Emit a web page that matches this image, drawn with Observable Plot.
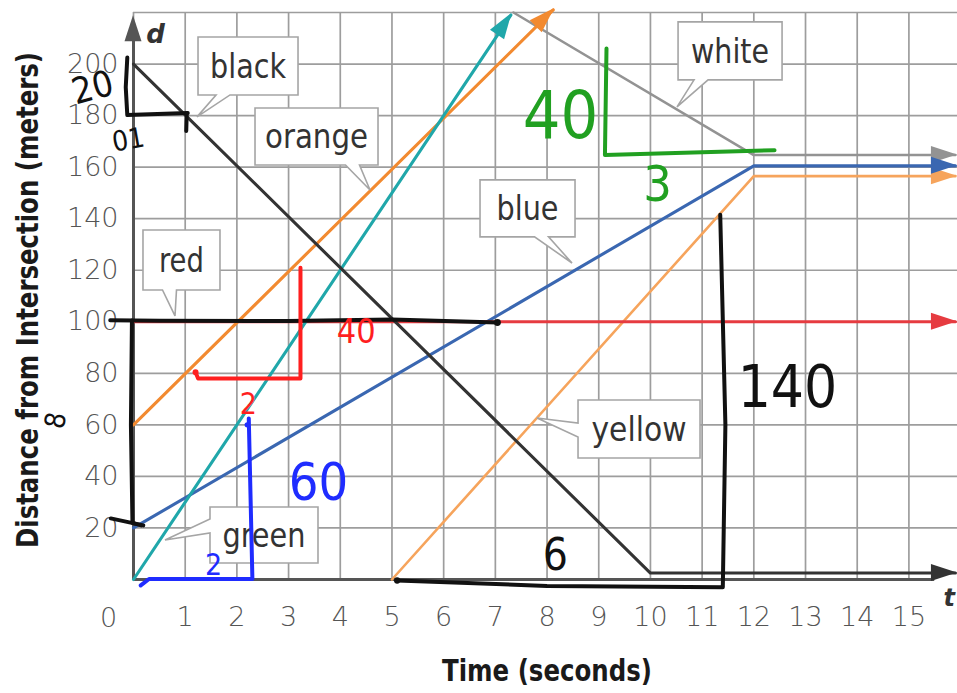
<!DOCTYPE html>
<html><head><meta charset="utf-8">
<script src="https://cdn.jsdelivr.net/npm/d3@7"></script>
<script src="https://cdn.jsdelivr.net/npm/@observablehq/plot@0.6"></script>
<style>
html,body{margin:0;padding:0;background:#fff;overflow:hidden;}
</style></head><body><div id="chart"></div>
<script>
// ---- series data (time t in seconds, distance d in meters) ----
const seriesNames  = ["white", "yellow", "blue", "red", "orange", "green", "black"];
const seriesColors = ["#939393", "#f6a45c", "#3a67b1", "#e63b40", "#f28a30", "#20a7aa", "#333333"];
const whiteT  = [7.35, 12, 15.9];  const whiteD  = [220, 164.7, 164.7];
const yellowT = [5, 12, 15.9];     const yellowD = [0, 156.5, 156.5];
const blueT   = [0, 12, 15.9];     const blueD   = [20, 160.5, 160.5];
const redT    = [0, 15.9];         const redD    = [100, 100];
const orangeT = [0, 8.12];         const orangeD = [60, 221];
const greenT  = [0, 7.3];          const greenD  = [0, 219];
const blackT  = [0, 10, 15.9];     const blackD  = [200, 2.5, 2.5];

// ---- tick labels ----
const xTickLabels = [1,2,3,4,5,6,7,8,9,10,11,12,13,14,15];
const yTickLabels = [20,40,60,80,100,120,140,160,180,200];
const xGrid = [0,1,2,3,4,5,6,7,8,9,10,11,12,13,14,15];
const yGrid = [20,40,60,80,100,120,140,160,180,200,220];

// ---- callout labels (text, point on line, box centre) ----
const calloutLabels = ["black", "orange", "red", "blue", "green", "yellow", "white"];
const calloutTipT   = [1.238, 4.585, 0.8125, 8.493, 0.619, 7.816, 10.524];
const calloutTipD   = [179.3, 150.95, 102.06, 122.6, 15.13, 62.48, 183.2];
const calloutBoxT   = [2.225, 3.55, 0.938, 7.632, 2.534, 9.789, 11.55];
const calloutBoxD   = [199.07, 171.7, 123.8, 143.8, 17.07, 58.2, 204.9];

// ---- handwritten ink annotations ----
const inkStrokes = [
  {ink:"black", t:[-0.12,-0.15,-0.12,1.05], d:[202.5,191,180.2,181]},
  {ink:"black", t:[1.03,1.02], d:[181,174]},
  {ink:"black", t:[-0.45,0.5,3,5,7.04], d:[100.6,100.4,100.3,100.9,99.7]},
  {ink:"black", t:[-0.03,-0.05,-0.02,0.15], d:[100.5,60,22,21]},
  {ink:"black", t:[-0.44,0.19], d:[23.7,21]},
  {ink:"black", t:[5.1,8,11.4,11.45,11.35], d:[-0.4,-2.5,-3,60,141.5]},
  {ink:"red",   t:[1.2,1.25,3.23,3.23], d:[80.4,78,78,121]},
  {ink:"blue",  t:[0.14,0.3,2.3,2.23], d:[-2.3,0.2,0.2,62.5]},
  {ink:"green", t:[9.15,9.12,12.4], d:[206,164.7,166.6]}
];
const inkDots = [
  {ink:"black", t:7.04, d:99.7, r:6},
  {ink:"black", t:5.1, d:-0.4, r:5},
  {ink:"red", t:1.2, d:80.4, r:4.5},
  {ink:"blue", t:2.2, d:60, r:3.5}
];
const inkTexts = [
  {ink:"black", text:"20",  t:-0.79, d:190.7, size:36, rotate:-15},
  {ink:"black", text:"01",  t:-0.1,  d:170.5, size:28, rotate:-10},
  {ink:"red",   text:"40",  t:4.31,  d:95.9,  size:34, rotate:0},
  {ink:"red",   text:"2",   t:2.22,  d:68,    size:30, rotate:0},
  {ink:"blue",  text:"2",   t:1.55,  d:5.4,   size:30, rotate:0},
  {ink:"blue",  text:"60",  t:3.58,  d:37.3,  size:52, rotate:0},
  {ink:"green", text:"40",  t:8.26,  d:179.4, size:66, rotate:0},
  {ink:"green", text:"3",   t:10.14, d:153,   size:50, rotate:0},
  {ink:"black", text:"140", t:12.65, d:74.2,  size:58, rotate:0},
  {ink:"black", text:"6",   t:8.16,  d:9.3,   size:44, rotate:0},
  {ink:"black", text:"8",   t:-1.5,  d:61.7,  size:28, rotate:-80}
];
const inkColors = {black:"#111111", red:"#ff1f1f", blue:"#1f2cff", green:"#21a021"};

// ---- build tables ----
const seriesT = [whiteT, yellowT, blueT, redT, orangeT, greenT, blackT];
const seriesD = [whiteD, yellowD, blueD, redD, orangeD, greenD, blackD];
const series = seriesNames.map((name, i) => ({
  name, color: seriesColors[i],
  rows: seriesT[i].map((t, j) => ({t, d: seriesD[i][j]}))
}));
const callouts = calloutLabels.map((label, i) => ({
  label, t: calloutTipT[i], d: calloutTipD[i], bt: calloutBoxT[i], bd: calloutBoxD[i]
}));
// box styling (pixels)
const calloutStyle = {
  black:  {w:100, h:58, side:"bottom", at:-25, tw:76},
  orange: {w:123, h:57, side:"bottom", at:36,  tw:103},
  red:    {w:77,  h:60, side:"bottom", at:-12, tw:45},
  blue:   {w:95,  h:57, side:"bottom", at:14,  tw:62},
  green:  {w:108, h:56, side:"left",   at:-9,  tw:83},
  yellow: {w:122, h:58, side:"left",   at:1,   tw:95},
  white:  {w:104, h:58, side:"bottom", at:-29, tw:78}
};

const condensed = "'Liberation Sans Narrow','DejaVu Sans Condensed','Liberation Sans',sans-serif";

function arrowheads(index, scales) {
  const g = d3.create("svg:g");
  const head = (x1, y1, x2, y2, color) => {
    const a = Math.atan2(y2 - y1, x2 - x1) * 180 / Math.PI;
    g.append("path").attr("d", "M2,0L-24,-8.5L-24,8.5Z").attr("fill", color)
      .attr("transform", `translate(${x2},${y2}) rotate(${a})`);
  };
  for (const s of series) {
    const n = s.rows.length, p = s.rows[n - 2], q = s.rows[n - 1];
    head(scales.x(p.t), scales.y(p.d), scales.x(q.t), scales.y(q.d), s.color);
  }
  head(scales.x(0), scales.y(0), scales.x(0), scales.y(218), "#555");
  return g.node();
}

function calloutMark(index, scales) {
  const g = d3.create("svg:g");
  for (const c of callouts) {
    const st = calloutStyle[c.label];
    const cx = scales.x(c.bt), cy = scales.y(c.bd);
    const tx = scales.x(c.t), ty = scales.y(c.d);
    const L = cx - st.w / 2, R = cx + st.w / 2, T = cy - st.h / 2, B = cy + st.h / 2, bw = 7;
    let p;
    if (st.side === "bottom")
      p = `M${L},${T}H${R}V${B}H${cx + st.at + bw}L${tx},${ty}L${cx + st.at - bw},${B}H${L}Z`;
    else
      p = `M${L},${T}H${R}V${B}H${L}V${cy + st.at + bw}L${tx},${ty}L${L},${cy + st.at - bw}Z`;
    g.append("path").attr("d", p).attr("fill", "white").attr("stroke", "#a5a5a5").attr("stroke-width", 1.6);
    g.append("text").attr("x", cx).attr("y", cy).attr("dy", "0.35em").attr("text-anchor", "middle")
      .attr("font-family", condensed).attr("font-size", 34).attr("fill", "#333")
      .attr("textLength", st.tw).attr("lengthAdjust", "spacingAndGlyphs").text(c.label);
  }
  return g.node();
}

function titles(index, scales, values, dims) {
  const g = d3.create("svg:g").attr("font-family", condensed).attr("font-weight", "bold").attr("fill", "#1a1a1a");
  g.append("text").attr("x", 547).attr("y", 670).attr("dy", "0.35em").attr("text-anchor", "middle")
    .attr("font-size", 30).attr("textLength", 210).attr("lengthAdjust", "spacingAndGlyphs").text("Time (seconds)");
  g.append("text").attr("transform", "translate(27,300) rotate(-90)").attr("dy", "0.35em").attr("text-anchor", "middle")
    .attr("font-size", 30).attr("textLength", 496).attr("lengthAdjust", "spacingAndGlyphs").text("Distance from Intersection (meters)");
  return g.node();
}

const inkGroups = Object.keys(inkColors);
const plot = Plot.plot({
  width: 957, height: 693,
  marginLeft: 133, marginRight: 0, marginTop: 12, marginBottom: 114,
  x: {domain: [0, 15.94]},
  y: {domain: [0, 220]},
  style: {background: "white", fontFamily: "'DejaVu Sans', sans-serif", overflow: "visible"},
  marks: [
    Plot.gridX(xGrid, {stroke: "#9d9d9d", strokeOpacity: 1, strokeWidth: 1.7}),
    Plot.gridY(yGrid, {stroke: "#9d9d9d", strokeOpacity: 1, strokeWidth: 1.7}),
    Plot.ruleX([0], {y1: 0, y2: 216, stroke: "#555", strokeWidth: 3}),
    Plot.ruleY([0], {x1: 0, x2: 15.5, stroke: "#555", strokeWidth: 3}),
    Plot.axisX(xTickLabels, {tickSize: 0, tickPadding: 27, fontSize: 27, fontWeight: 200, color: "#555", label: null}),
    Plot.axisY(yTickLabels, {tickSize: 0, tickPadding: 15, fontSize: 27, fontWeight: 200, color: "#555", label: null}),
    Plot.text([{t: 0, d: 0}], {x: "t", y: "d", text: () => "0", dx: -25, dy: 39, fontSize: 27, fontWeight: 200, fill: "#555"}),
    ...series.map(s => Plot.line(s.rows, {x: "t", y: "d", stroke: s.color, strokeWidth: s.name === "white" || s.name === "yellow" ? 2.6 : 3.1})),
    arrowheads,
    calloutMark,
    Plot.text([{t: 0.426, d: 211.5}], {x: "t", y: "d", text: () => "d", fontSize: 26, fontWeight: "bold", fontStyle: "italic", fill: "#333"}),
    Plot.text([{t: 15.78, d: -7.4}], {x: "t", y: "d", text: () => "t", fontSize: 24, fontWeight: "bold", fontStyle: "italic", fill: "#333"}),
    ...inkGroups.map(k => Plot.line(inkStrokes.filter(s => s.ink === k).flatMap((s, i) => s.t.map((t, j) => ({id: i, t, d: s.d[j]}))),
      {x: "t", y: "d", z: "id", stroke: inkColors[k], strokeWidth: 4, strokeLinecap: "round", strokeLinejoin: "round"})),
    ...inkGroups.map(k => Plot.dot(inkDots.filter(p => p.ink === k), {x: "t", y: "d", r: "r", fill: inkColors[k]})),
    ...inkGroups.map(k => Plot.text(inkTexts.filter(p => p.ink === k), {x: "t", y: "d", text: "text", fontSize: "size", rotate: "rotate", fill: inkColors[k], fontFamily: condensed})),
    titles
  ]
});
document.getElementById("chart").appendChild(plot);
</script>
</body></html>
